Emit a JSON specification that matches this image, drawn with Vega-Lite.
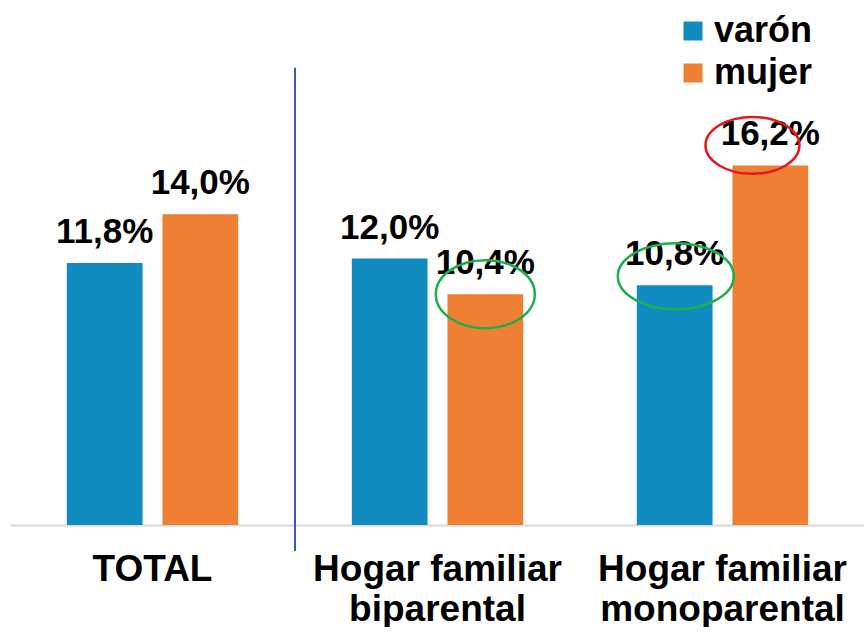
{
  "$schema": "https://vega.github.io/schema/vega-lite/v6.json",
  "width": 855,
  "height": 515,
  "padding": {"left": 10, "top": 10, "right": 0, "bottom": 0},
  "autosize": {"type": "pad"},
  "background": "white",
  "config": {
    "view": {"stroke": null},
    "font": "Liberation Sans",
    "legend": {
      "orient": "none",
      "legendX": 665,
      "legendY": 3,
      "padding": 0,
      "symbolType": "square",
      "symbolSize": 361,
      "symbolStrokeWidth": 0,
      "symbolOpacity": 1,
      "labelFont": "Liberation Sans",
      "labelFontSize": 36,
      "labelFontWeight": "bold",
      "labelColor": "#000000",
      "labelOffset": 3,
      "rowPadding": 6,
      "title": null
    }
  },
  "data": {
    "values": [
      {"cat": "TOTAL", "sex": "varón", "value": 11.8, "label": "11,8%"},
      {"cat": "TOTAL", "sex": "mujer", "value": 14.0, "label": "14,0%"},
      {"cat": "Hogar familiar|biparental", "sex": "varón", "value": 12.0, "label": "12,0%"},
      {"cat": "Hogar familiar|biparental", "sex": "mujer", "value": 10.4, "label": "10,4%"},
      {"cat": "Hogar familiar|monoparental", "sex": "varón", "value": 10.8, "label": "10,8%"},
      {"cat": "Hogar familiar|monoparental", "sex": "mujer", "value": 16.2, "label": "16,2%"}
    ]
  },
  "encoding": {
    "x": {
      "field": "cat",
      "type": "nominal",
      "sort": null,
      "scale": {"paddingInner": 0, "paddingOuter": 0},
      "axis": {
        "title": null,
        "labelExpr": "split(datum.label, '|')",
        "labelAngle": 0,
        "labelFont": "Liberation Sans",
        "labelFontSize": 37,
        "labelFontWeight": "bold",
        "labelColor": "#000000",
        "labelLineHeight": 40,
        "labelPadding": 26,
        "labelLimit": 0,
        "ticks": false,
        "domainColor": "#d9d9d9",
        "domainWidth": 2
      }
    },
    "y": {
      "field": "value",
      "type": "quantitative",
      "scale": {"domain": [0, 23.2], "nice": false, "zero": true},
      "axis": null
    }
  },
  "layer": [
    {
      "mark": {"type": "bar"},
      "encoding": {
        "xOffset": {
          "field": "sex",
          "type": "nominal",
          "sort": ["varón", "mujer"],
          "scale": {"paddingInner": 0.208, "paddingOuter": 0.594}
        },
        "color": {
          "field": "sex",
          "type": "nominal",
          "sort": ["varón", "mujer"],
          "scale": {"domain": ["varón", "mujer"], "range": ["#118cc0", "#ee7f33"]},
          "legend": {"title": null}
        }
      }
    },
    {
      "mark": {"type": "text", "dy": -20, "baseline": "alphabetic", "align": "center", "fontSize": 35, "fontWeight": "bold", "font": "Liberation Sans", "color": "#000000"},
      "encoding": {
        "xOffset": {"field": "sex", "type": "nominal", "sort": ["varón", "mujer"]},
        "text": {"field": "label"}
      }
    },
    {
      "data": {"values": [{"cat": "Hogar familiar|biparental", "top": 20.6, "bottom": -1.17}]},
      "mark": {"type": "rule", "color": "#3a5ba5", "strokeWidth": 2},
      "encoding": {
        "x": {"field": "cat", "type": "nominal", "bandPosition": 0},
        "y": {"field": "top", "type": "quantitative"},
        "y2": {"field": "bottom"}
      }
    },
    {
      "data": {"values": [{"cat": "Hogar familiar|biparental", "sex": "mujer", "value": 10.4}]},
      "mark": {"type": "point", "filled": false, "stroke": "#1fae4b", "strokeWidth": 2.5, "opacity": 1, "size": 9801,
        "shape": "M -1 0 C -1 -0.379 -0.552 -0.687 0 -0.687 C 0.552 -0.687 1 -0.379 1 0 C 1 0.379 0.552 0.687 0 0.687 C -0.552 0.687 -1 0.379 -1 0 Z"},
      "encoding": {
        "xOffset": {"field": "sex", "type": "nominal", "sort": ["varón", "mujer"]}
      }
    },
    {
      "data": {"values": [{"cat": "Hogar familiar|monoparental", "sex": "varón", "value": 10.8}]},
      "mark": {"type": "point", "filled": false, "stroke": "#1fae4b", "strokeWidth": 2.5, "opacity": 1, "size": 13456,
        "shape": "M -0.98 -0.155 C -0.98 -0.469 -0.532 -0.724 0.02 -0.724 C 0.572 -0.724 1.02 -0.469 1.02 -0.155 C 1.02 0.159 0.572 0.414 0.02 0.414 C -0.532 0.414 -0.98 0.159 -0.98 -0.155 Z"},
      "encoding": {
        "xOffset": {"field": "sex", "type": "nominal", "sort": ["varón", "mujer"]}
      }
    },
    {
      "data": {"values": [{"cat": "Hogar familiar|monoparental", "sex": "mujer", "value": 16.2}]},
      "mark": {"type": "point", "filled": false, "stroke": "#e8161c", "strokeWidth": 2.5, "opacity": 1, "size": 8836,
        "shape": "M -1.38 -0.426 C -1.38 -0.761 -0.932 -1.032 -0.38 -1.032 C 0.172 -1.032 0.62 -0.761 0.62 -0.426 C 0.62 -0.091 0.172 0.18 -0.38 0.18 C -0.932 0.18 -1.38 -0.091 -1.38 -0.426 Z"},
      "encoding": {
        "xOffset": {"field": "sex", "type": "nominal", "sort": ["varón", "mujer"]}
      }
    }
  ]
}
